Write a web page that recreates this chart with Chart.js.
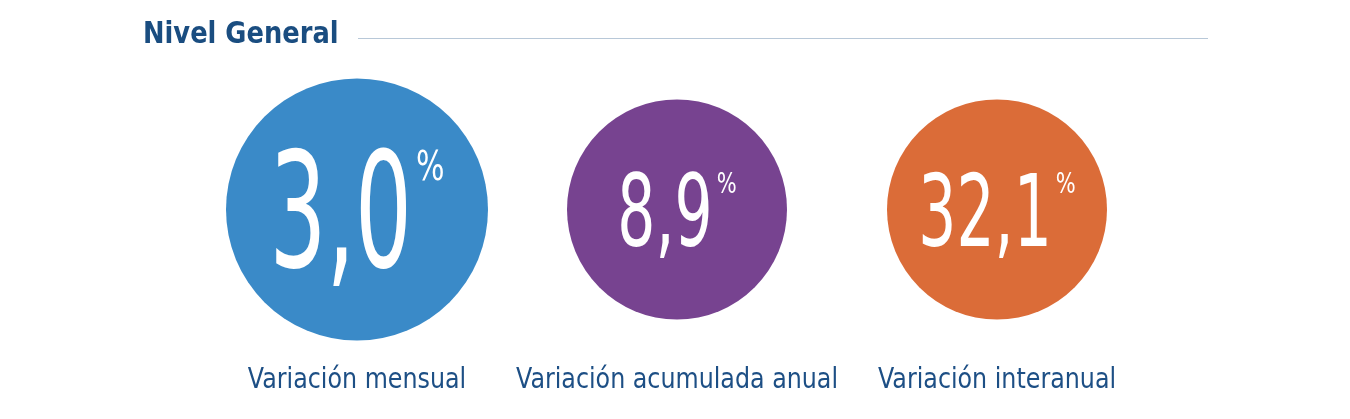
<!DOCTYPE html>
<html>
<head>
    <script src="https://cdn.jsdelivr.net/npm/chart.js"></script>
    <style>
        body { margin: 0; background: #fff; }
        #wrap { width: 1350px; height: 419px; position: relative; }
    </style>
</head>
<body>
<div id="wrap"><canvas id="kpiChart" width="1350" height="419"></canvas></div>
<script>
    const title = "Nivel General";
    const categories = ["Variación mensual", "Variación acumulada anual", "Variación interanual"];
    const values = [3.0, 8.9, 32.1];
    const colors = ["#3a8ac8", "#774390", "#db6c38"];

    const FONT = "'Liberation Sans Narrow', 'DejaVu Sans', sans-serif";

    // draw text squeezed horizontally (no condensed font available)
    function narrowText(ctx, txt, x, y, font, sx, align) {
        ctx.save();
        ctx.font = font;
        const w = ctx.measureText(txt).width * sx;
        let left = x;
        if (align === "center") left = x - w / 2;
        ctx.translate(left, y);
        ctx.scale(sx, 1);
        ctx.textAlign = "left";
        ctx.fillText(txt, 0, 0);
        ctx.restore();
        return w;
    }
    function narrowWidth(ctx, txt, font, sx) {
        ctx.save();
        ctx.font = font;
        const w = ctx.measureText(txt).width * sx;
        ctx.restore();
        return w;
    }

    const textPlugin = {
        id: "textPlugin",
        afterDatasetsDraw(chart) {
            const ctx = chart.ctx;
            const meta = chart.getDatasetMeta(0);
            ctx.save();
            ctx.textBaseline = "alphabetic";
            ctx.fillStyle = "#1a4d80";
            narrowText(ctx, title, 143, 43, "bold 31px " + FONT, 0.83, "left");
            ctx.strokeStyle = "#b8c8d8";
            ctx.lineWidth = 1;
            ctx.beginPath();
            ctx.moveTo(358, 38.5);
            ctx.lineTo(1208, 38.5);
            ctx.stroke();

            meta.data.forEach((el, i) => {
                const r = el.options.radius;
                const big = r > 120;
                const txt = values[i].toFixed(1).replace(".", ",");
                const size = big ? 160 : 100;
                const sx = big ? 0.56 : 0.6;
                const pSize = big ? 40 : 28;
                const numFont = size + "px " + FONT;
                const pFont = pSize + "px " + FONT;
                const w = narrowWidth(ctx, txt, numFont, sx);
                const pw = narrowWidth(ctx, "%", pFont, 0.75);
                const x0 = el.x - (w + pw + 4) / 2;
                const base = el.y + size * 0.36;
                ctx.fillStyle = "#fff";
                narrowText(ctx, txt, x0, base, numFont, sx, "left");
                narrowText(ctx, "%", x0 + w + 4, base - size * 0.73 + pSize * 0.73, pFont, 0.75, "left");

                ctx.fillStyle = "#1d4f85";
                narrowText(ctx, categories[i], el.x, 388, "29px " + FONT, 0.82, "center");
            });
            ctx.restore();
        }
    };

    new Chart(document.getElementById("kpiChart"), {
        type: "bubble",
        data: {
            labels: categories,
            datasets: [{
                data: values.map((v, i) => ({ x: categories[i], y: 0.5, v: v })),
                backgroundColor: colors,
                borderWidth: 0,
                radius: [131, 110, 110],
                hoverRadius: 0,
                clip: false
            }]
        },
        options: {
            responsive: false,
            animation: false,
            layout: { padding: { left: 197, right: 193, top: 6, bottom: 0 } },
            plugins: { legend: { display: false }, tooltip: { enabled: false } },
            scales: {
                x: { type: "category", offset: true, display: false },
                y: { min: 0, max: 1, display: false }
            }
        },
        plugins: [textPlugin]
    });
</script>
</body>
</html>
